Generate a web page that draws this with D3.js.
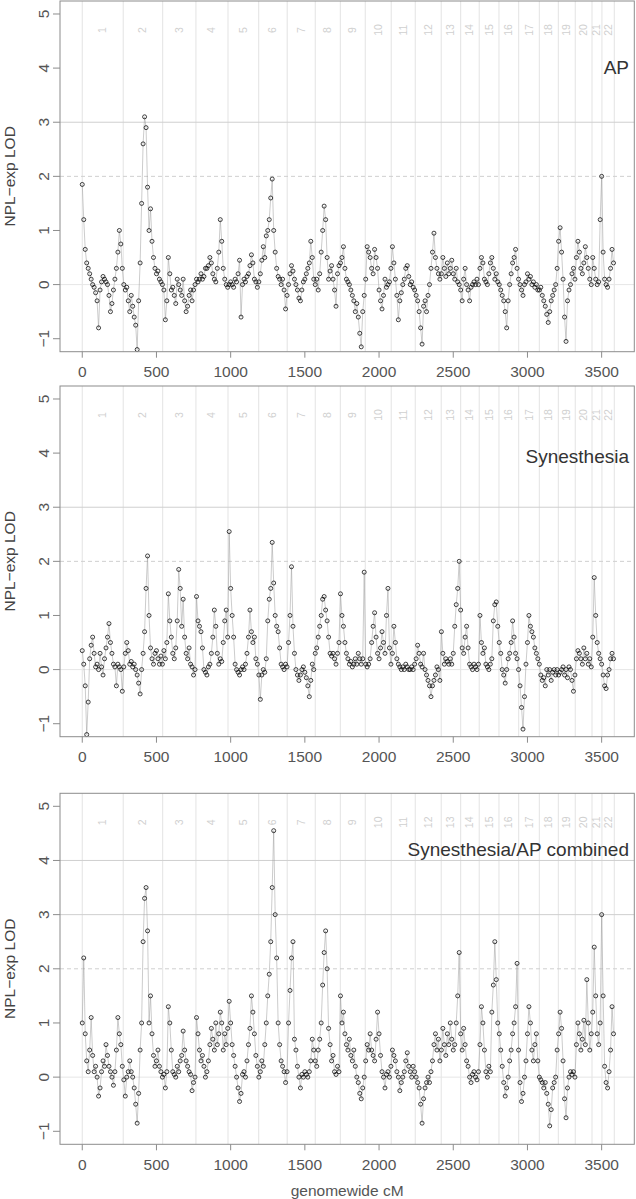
<!DOCTYPE html>
<html><head><meta charset="utf-8">
<script src="https://cdn.jsdelivr.net/npm/d3@7"></script>
<style>html,body{margin:0;padding:0;background:#fff;}</style>
</head><body>
<svg id="chart" width="636" height="1199"></svg>
<script>
const chromStarts = [0,276,542,766,982,1189,1381,1570,1739,1907,2082,2244,2419,2550,2675,2808,2941,3080,3208,3322,3435,3502,3585];
const chromLabels = ["1","2","3","4","5","6","7","8","9","10","11","12","13","14","15","16","17","18","19","20","21","22"];
const xTicks = [0,500,1000,1500,2000,2500,3000,3500];
const yTicks = [-1,0,1,2,3,4,5];
const panelTitles = ["AP","Synesthesia","Synesthesia/AP combined"];

const apLOD = [[0,1.85],[10,1.2],[20,0.65],[30,0.4],[40,0.3],[50,0.2],[60,0.1],[70,0],[80,-0.05],[90,-0.15],[100,-0.3],[110,-0.8],[120,-0.1],[130,0.05],[140,0.15],[150,0.1],[160,0.05],[170,0],[180,-0.2],[190,-0.5],[200,-0.35],[210,-0.1],[220,0.1],[230,0.3],[240,0.6],[250,1.0],[260,0.75],[270,0.3],
[280,0],[290,-0.1],[300,-0.05],[310,-0.3],[320,-0.5],[330,-0.2],[340,-0.4],[350,-0.6],[360,-0.75],[370,-1.2],[380,-0.3],[390,0.4],[400,1.5],[410,2.6],[420,3.1],[430,2.9],[440,1.8],[450,1.0],[460,1.4],[470,0.8],[480,0.5],[490,0.3],[500,0.2],[510,0.25],[520,0.1],[530,0.05],[540,0],
[550,-0.1],[560,-0.65],[570,-0.3],[580,0.5],[590,0.2],[600,-0.1],[610,-0.05],[620,-0.2],[630,-0.35],[640,0.1],[650,0],[660,-0.1],[670,-0.2],[680,0.1],[690,-0.3],[700,-0.5],[710,-0.4],[720,-0.2],[730,-0.1],[740,-0.3],[750,-0.1],[760,0],
[770,0.1],[780,0.05],[790,0.1],[800,0.2],[810,0.1],[820,0.15],[830,0.3],[840,0.3],[850,0.35],[860,0.5],[870,0.4],[880,0.2],[890,0.1],[900,0.05],[910,0.3],[920,0.6],[930,1.2],[940,0.8],[950,0.3],[960,0.1],[970,0],[980,-0.05],
[990,0],[1000,0.05],[1010,0],[1020,-0.05],[1030,0.1],[1040,0.05],[1050,0.2],[1060,0.45],[1070,-0.6],[1080,0],[1090,0.1],[1100,0.05],[1110,0.15],[1120,0.2],[1130,0.35],[1140,0.55],[1150,0.4],[1160,0.1],[1170,0.05],[1180,-0.05],
[1190,0.05],[1200,0.2],[1210,0.45],[1220,0.7],[1230,0.5],[1240,0.9],[1250,1.0],[1260,1.2],[1270,1.6],[1280,1.95],[1290,1.0],[1300,0.6],[1310,0.3],[1320,0.15],[1330,0.1],[1340,0],[1350,0.1],[1360,-0.1],[1370,-0.45],[1380,-0.2],
[1390,0],[1400,0.2],[1410,0.35],[1420,0.25],[1430,0.1],[1440,0],[1450,-0.1],[1460,-0.25],[1470,-0.3],[1480,-0.1],[1490,0.05],[1500,0.1],[1510,0.2],[1520,0.3],[1530,0.4],[1540,0.8],[1550,0.5],[1560,0.1],[1570,0],
[1580,0.1],[1590,-0.1],[1600,0.2],[1610,0.6],[1620,1.0],[1630,1.45],[1640,1.2],[1650,0.5],[1660,0.1],[1670,0.25],[1680,0.35],[1690,0.1],[1700,-0.1],[1710,-0.4],[1720,0.2],[1730,0.35],
[1740,0.4],[1750,0.5],[1760,0.7],[1770,0.3],[1780,0.1],[1790,0.05],[1800,0],[1810,-0.1],[1820,-0.2],[1830,-0.3],[1840,-0.5],[1850,-0.35],[1860,-0.6],[1870,-0.9],[1880,-1.15],[1890,-0.5],[1900,-0.2],
[1910,0.1],[1920,0.7],[1930,0.6],[1940,0.5],[1950,0.3],[1960,0.2],[1970,0.65],[1980,0.5],[1990,0.3],[2000,-0.1],[2010,-0.3],[2020,-0.45],[2030,-0.2],[2040,0.1],[2050,-0.05],[2060,0],[2070,0.05],[2080,0.3],
[2090,0.7],[2100,0.4],[2110,0.1],[2120,-0.2],[2130,-0.65],[2140,-0.3],[2150,-0.15],[2160,0],[2170,0.1],[2180,0.3],[2190,0.35],[2200,0.15],[2210,0],[2220,0.05],[2230,-0.05],[2240,-0.1],
[2250,-0.2],[2260,-0.3],[2270,-0.5],[2280,-0.8],[2290,-1.1],[2300,-0.4],[2310,-0.3],[2320,-0.5],[2330,-0.2],[2340,0],[2350,0.3],[2360,0.6],[2370,0.95],[2380,0.5],[2390,0.3],[2400,0.2],[2410,0.1],
[2420,0.2],[2430,0.5],[2440,0.3],[2450,0.15],[2460,0.4],[2470,0.2],[2480,0.3],[2490,0.45],[2500,0.2],[2510,0.1],[2520,0.3],[2530,0.05],[2540,0],
[2550,-0.1],[2560,-0.3],[2570,0.1],[2580,0.3],[2590,0],[2600,-0.1],[2610,-0.3],[2620,-0.05],[2630,0],[2640,0.05],[2650,0],[2660,0.1],[2670,0],
[2680,0.3],[2690,0.5],[2700,0.4],[2710,0.1],[2720,0.05],[2730,0],[2740,0.2],[2750,0.4],[2760,0.5],[2770,0.3],[2780,0.1],[2790,0.2],[2800,0.05],
[2810,0],[2820,-0.1],[2830,-0.2],[2840,-0.3],[2850,-0.5],[2860,-0.8],[2870,-0.3],[2880,0],[2890,0.2],[2900,0.4],[2910,0.5],[2920,0.65],[2930,0.3],[2940,0.1],
[2950,0],[2960,-0.1],[2970,-0.2],[2980,0],[2990,0.05],[3000,0.2],[3010,0.1],[3020,0.15],[3030,0],[3040,0.05],[3050,-0.05],[3060,0],[3070,-0.1],
[3080,-0.1],[3090,-0.05],[3100,-0.2],[3110,-0.3],[3120,-0.4],[3130,-0.55],[3140,-0.7],[3150,-0.5],[3160,-0.3],[3170,-0.2],[3180,-0.1],[3190,0],[3200,0.3],
[3210,0.8],[3220,1.05],[3230,0.6],[3240,0.1],[3250,-0.6],[3260,-1.05],[3270,-0.3],[3280,-0.1],[3290,0],[3300,0.2],[3310,0.3],[3320,0.1],
[3330,0.5],[3340,0.8],[3350,0.6],[3360,0.3],[3370,0.2],[3380,0.4],[3390,0.7],[3400,0.5],[3410,0.3],[3420,0.1],[3430,0],
[3440,0.5],[3450,0.3],[3460,0.1],[3470,0],[3480,0.05],[3490,1.2],[3500,2.0],
[3510,0.6],[3520,0.1],[3530,0],[3540,-0.05],[3550,0.1],[3560,0.3],[3570,0.65],[3580,0.4]];

const synLOD = [[0,0.35],[10,0.1],[20,-0.3],[30,-1.2],[40,-0.6],[50,0.2],[60,0.45],[70,0.6],[80,0.3],[90,0.05],[100,0.1],[110,0],[120,0.3],[130,0.05],[140,-0.1],[150,0.2],[160,0.4],[170,0.6],[180,0.85],[190,0.5],[200,0.3],[210,0.1],[220,0.05],[230,-0.3],[240,0.1],[250,0.05],[260,0],[270,-0.4],
[280,0.05],[290,0.3],[300,0.5],[310,0.35],[320,0.1],[330,0.15],[340,0.05],[350,0.1],[360,0],[370,-0.1],[380,-0.25],[390,-0.45],[400,0],[410,0.3],[420,0.7],[430,1.5],[440,2.1],[450,1.0],[460,0.4],[470,0.2],[480,0.1],[490,0.3],[500,0.35],[510,0.2],[520,0.1],[530,0.25],[540,0.1],
[550,0.35],[560,0.2],[570,0.5],[580,1.4],[590,0.9],[600,0.6],[610,0.3],[620,0.2],[630,0.4],[640,0.9],[650,1.85],[660,1.5],[670,0.8],[680,1.3],[690,0.6],[700,0.3],[710,0.2],[720,0.4],[730,0.1],[740,0.05],[750,-0.1],[760,0],
[770,1.35],[780,0.9],[790,0.8],[800,0.7],[810,0.4],[820,0],[830,-0.05],[840,-0.1],[850,0.05],[860,0.1],[870,0.3],[880,0.6],[890,1.1],[900,0.8],[910,0.3],[920,0.1],[930,0.2],[940,0.15],[950,0.5],[960,0.9],[970,1.1],[980,0.6],
[990,2.55],[1000,1.5],[1010,1.0],[1020,0.6],[1030,0.1],[1040,0],[1050,-0.05],[1060,-0.1],[1070,0],[1080,0.05],[1090,0],[1100,0.1],[1110,0.3],[1120,0.6],[1130,1.1],[1140,0.7],[1150,0.5],[1160,0.6],[1170,0.2],[1180,0.1],
[1190,-0.1],[1200,-0.55],[1210,-0.1],[1220,0],[1230,-0.05],[1240,0.2],[1250,0.9],[1260,1.3],[1270,1.5],[1280,2.35],[1290,1.6],[1300,1.0],[1310,0.8],[1320,0.7],[1330,0.4],[1340,0.1],[1350,0.05],[1360,0],[1370,0.1],[1380,0.05],
[1390,0.5],[1400,1.0],[1410,1.9],[1420,0.8],[1430,0.3],[1440,0],[1450,-0.1],[1460,-0.2],[1470,-0.1],[1480,0],[1490,0.05],[1500,-0.05],[1510,-0.15],[1520,-0.3],[1530,-0.5],[1540,-0.2],[1550,0.1],[1560,0],[1570,0.3],
[1580,0.4],[1590,0.6],[1600,0.8],[1610,1.0],[1620,1.3],[1630,1.35],[1640,1.1],[1650,0.9],[1660,0.6],[1670,0.3],[1680,0.25],[1690,0.3],[1700,0.2],[1710,0.1],[1720,0.3],[1730,0.5],
[1740,1.4],[1750,1.0],[1760,0.8],[1770,0.5],[1780,0.3],[1790,0.2],[1800,0.1],[1810,0.15],[1820,0.05],[1830,0.1],[1840,0.2],[1850,0.1],[1860,0.3],[1870,0.2],[1880,0.1],[1890,0.2],[1900,1.8],
[1910,0.1],[1920,0.05],[1930,0.1],[1940,0.2],[1950,0.5],[1960,0.8],[1970,1.05],[1980,0.6],[1990,0.3],[2000,0.2],[2010,0.4],[2020,0.7],[2030,0.5],[2040,0.3],[2050,1.0],[2060,1.5],[2070,0.4],[2080,0.1],
[2090,0.3],[2100,0.8],[2110,0.5],[2120,0.2],[2130,0.1],[2140,0.05],[2150,0],[2160,0.05],[2170,0],[2180,0.1],[2190,0.05],[2200,0],[2210,0],[2220,0.05],[2230,0],[2240,0.1],
[2250,0.2],[2260,0.45],[2270,0.3],[2280,0.1],[2290,0.05],[2300,0.3],[2310,0],[2320,-0.1],[2330,-0.2],[2340,-0.3],[2350,-0.5],[2360,-0.3],[2370,-0.2],[2380,-0.1],[2390,0.05],[2400,0],[2410,-0.2],
[2420,0.7],[2430,0.3],[2440,0.1],[2450,0.2],[2460,0.15],[2470,0.1],[2480,0.2],[2490,0.1],[2500,0.3],[2510,0.8],[2520,1.2],[2530,1.5],[2540,2.0],
[2550,1.1],[2560,0.4],[2570,0.3],[2580,0.6],[2590,0.8],[2600,0.4],[2610,0.1],[2620,0.05],[2630,0],[2640,0.1],[2650,0.05],[2660,0],[2670,0.1],
[2680,1.0],[2690,0.5],[2700,0.3],[2710,0.4],[2720,0.1],[2730,0.05],[2740,0],[2750,0.1],[2760,0.2],[2770,0.9],[2780,1.2],[2790,1.25],[2800,0.8],
[2810,0.5],[2820,0.3],[2830,0],[2840,-0.1],[2850,-0.25],[2860,0],[2870,0.2],[2880,0.3],[2890,0.5],[2900,0.9],[2910,0.6],[2920,0.3],[2930,0.2],[2940,0],
[2950,-0.3],[2960,-0.7],[2970,-1.1],[2980,-0.5],[2990,0.1],[3000,0.5],[3010,1.0],[3020,0.8],[3030,0.7],[3040,0.6],[3050,0.4],[3060,0.3],[3070,0.2],
[3080,0.1],[3090,-0.1],[3100,-0.2],[3110,-0.15],[3120,-0.3],[3130,0],[3140,-0.1],[3150,0],[3160,-0.2],[3170,-0.05],[3180,0],[3190,-0.1],[3200,0],
[3210,-0.1],[3220,-0.05],[3230,0],[3240,0.05],[3250,-0.1],[3260,0],[3270,-0.15],[3280,0.05],[3290,0],[3300,-0.2],[3310,-0.4],[3320,-0.1],
[3330,0.2],[3340,0.35],[3350,0.3],[3360,0.2],[3370,0.1],[3380,0.4],[3390,0.2],[3400,0.3],[3410,0.1],[3420,0.2],[3430,0.05],
[3440,0.6],[3450,1.7],[3460,1.0],[3470,0.5],[3480,0.3],[3490,0.2],[3500,0.1],
[3510,-0.1],[3520,-0.3],[3530,-0.35],[3540,-0.1],[3550,0],[3560,0.2],[3570,0.3],[3580,0.2]];

const combLOD = [[0,1.0],[10,2.2],[20,0.8],[30,0.3],[40,0.1],[50,0.5],[60,1.1],[70,0.4],[80,0.1],[90,0.2],[100,0],[110,-0.35],[120,-0.2],[130,0.1],[140,0.3],[150,0.2],[160,0.6],[170,0.4],[180,0.2],[190,0.1],[200,0],[210,-0.15],[220,0.1],[230,0.5],[240,1.1],[250,0.8],[260,0.6],[270,0.2],
[280,-0.05],[290,-0.35],[300,0],[310,0.1],[320,0.3],[330,0.1],[340,0],[350,-0.2],[360,-0.5],[370,-0.85],[380,-0.3],[390,0.5],[400,1.0],[410,2.5],[420,3.3],[430,3.5],[440,2.7],[450,1.0],[460,1.5],[470,0.8],[480,0.4],[490,0.2],[500,0.3],[510,0.5],[520,0.2],[530,0.1],[540,0],
[550,0.05],[560,-0.2],[570,0.1],[580,1.3],[590,1.0],[600,0.5],[610,0.1],[620,0.05],[630,0],[640,0.2],[650,0.1],[660,0.3],[670,0.4],[680,0.85],[690,0.5],[700,0.3],[710,0.2],[720,0.1],[730,0.05],[740,-0.25],[750,-0.1],[760,0],
[770,1.1],[780,0.8],[790,0.5],[800,0.3],[810,0.4],[820,0.2],[830,0],[840,0.1],[850,0.3],[860,0.6],[870,0.9],[880,0.7],[890,0.5],[900,1.0],[910,0.6],[920,0.8],[930,1.2],[940,1.0],[950,0.5],[960,0.8],[970,0.6],[980,0.9],
[990,1.4],[1000,1.0],[1010,0.6],[1020,0.4],[1030,0.2],[1040,0],[1050,-0.2],[1060,-0.45],[1070,-0.3],[1080,0.05],[1090,0.1],[1100,0],[1110,0.3],[1120,0.6],[1130,0.9],[1140,1.5],[1150,1.2],[1160,0.8],[1170,0.4],[1180,0.2],
[1190,0],[1200,0.1],[1210,0.3],[1220,0.2],[1230,0.6],[1240,1.0],[1250,1.5],[1260,1.9],[1270,2.5],[1280,3.5],[1290,4.55],[1300,3.0],[1310,2.2],[1320,1.0],[1330,0.6],[1340,0.3],[1350,0.2],[1360,0.1],[1370,-0.1],[1380,0.1],
[1390,1.0],[1400,1.6],[1410,2.2],[1420,2.5],[1430,0.7],[1440,0.5],[1450,0.2],[1460,0],[1470,-0.2],[1480,0.05],[1490,0],[1500,0.1],[1510,0.05],[1520,0],[1530,0.1],[1540,0.3],[1550,0.7],[1560,0.5],[1570,0.3],
[1580,0.2],[1590,0.5],[1600,0.7],[1610,1.0],[1620,1.7],[1630,2.3],[1640,2.7],[1650,2.0],[1660,0.9],[1670,0.6],[1680,0.3],[1690,0.4],[1700,0.1],[1710,0.05],[1720,0.2],[1730,0.1],
[1740,1.5],[1750,1.0],[1760,1.2],[1770,0.8],[1780,0.6],[1790,0.5],[1800,0.7],[1810,0.4],[1820,0.3],[1830,0.5],[1840,0.2],[1850,0],[1860,-0.1],[1870,-0.3],[1880,-0.4],[1890,-0.2],[1900,0],
[1910,0.3],[1920,0.6],[1930,0.5],[1940,0.8],[1950,0.5],[1960,0.4],[1970,0.3],[1980,0.7],[1990,1.2],[2000,0.8],[2010,0.4],[2020,0.1],[2030,0],[2040,-0.2],[2050,0.05],[2060,0.1],[2070,0],[2080,0.2],
[2090,0.5],[2100,0.4],[2110,0.3],[2120,0.1],[2130,0],[2140,-0.25],[2150,-0.1],[2160,0],[2170,0.1],[2180,0.3],[2190,0.45],[2200,0.2],[2210,0.1],[2220,0],[2230,0.2],[2240,0.1],
[2250,0],[2260,-0.1],[2270,-0.2],[2280,-0.5],[2290,-0.85],[2300,-0.4],[2310,-0.2],[2320,-0.1],[2330,0],[2340,-0.1],[2350,0.1],[2360,0.3],[2370,0.6],[2380,0.8],[2390,0.5],[2400,0.7],[2410,0.3],
[2420,0.5],[2430,0.9],[2440,0.6],[2450,0.4],[2460,0.8],[2470,0.6],[2480,1.0],[2490,0.7],[2500,0.5],[2510,0.6],[2520,1.0],[2530,1.5],[2540,2.3],
[2550,0.8],[2560,0.5],[2570,0.9],[2580,0.6],[2590,0.3],[2600,0.2],[2610,0],[2620,-0.1],[2630,0.05],[2640,0.1],[2650,0],[2660,-0.05],[2670,0.1],
[2680,0.6],[2690,1.3],[2700,1.0],[2710,0.5],[2720,0.1],[2730,0],[2740,0.2],[2750,0.1],[2760,1.2],[2770,1.7],[2780,2.5],[2790,1.8],[2800,1.0],
[2810,0.8],[2820,0.5],[2830,0.2],[2840,-0.1],[2850,-0.35],[2860,-0.2],[2870,0],[2880,0.3],[2890,0.5],[2900,0.8],[2910,1.0],[2920,1.3],[2930,2.1],[2940,0.5],
[2950,-0.1],[2960,-0.45],[2970,-0.3],[2980,0],[2990,0.3],[3000,0.8],[3010,1.3],[3020,1.0],[3030,0.5],[3040,0.3],[3050,0.6],[3060,0.8],[3070,0.3],
[3080,0],[3090,-0.05],[3100,-0.1],[3110,-0.2],[3120,-0.1],[3130,-0.3],[3140,-0.5],[3150,-0.9],[3160,-0.6],[3170,-0.2],[3180,-0.1],[3190,0],[3200,0.5],
[3210,0.8],[3220,1.2],[3230,0.9],[3240,0.3],[3250,-0.4],[3260,-0.75],[3270,-0.2],[3280,0],[3290,0.1],[3300,0.05],[3310,0.1],[3320,0],
[3330,0.6],[3340,1.0],[3350,0.8],[3360,0.5],[3370,0.7],[3380,1.05],[3390,0.6],[3400,1.8],[3410,1.0],[3420,0.5],[3430,0.8],
[3440,1.2],[3450,2.4],[3460,1.5],[3470,0.8],[3480,0.6],[3490,1.0],[3500,3.0],
[3510,1.5],[3520,0.2],[3530,-0.1],[3540,-0.2],[3550,0.1],[3560,0.5],[3570,1.3],[3580,0.8]];

const panelSeries = [apLOD, synLOD, combLOD];
const panelTops = [1, 386, 793.3];
const panelBottoms = [351.7, 736.7, 1144.3];
const titleBaselines = [74, 463, 856];
const solidRefLines = [[0,3],[0,3],[0,3,4]];

const svg = d3.select("#chart");
const FONT = "'Liberation Sans', Arial, Helvetica, sans-serif";
const left = 60, right = 634.3;
const x = d3.scaleLinear().domain([-150, 3720]).range([left, right]);

panelSeries.forEach((data, p) => {
  const top = panelTops[p], bottom = panelBottoms[p];
  const y = d3.scaleLinear().domain([-1.24, 5.24]).range([bottom, top]);
  const g = svg.append("g");

  g.selectAll("line.chr").data(chromStarts).enter().append("line")
    .attr("x1", d => x(d)).attr("x2", d => x(d))
    .attr("y1", top).attr("y2", bottom)
    .attr("stroke", "#e3e3e3").attr("stroke-width", 1);

  g.selectAll("text.chr").data(chromLabels).enter().append("text")
    .attr("transform", (d, i) => `translate(${x((chromStarts[i] + chromStarts[i+1]) / 2) + 3.5},${top + 29}) rotate(-90)`)
    .attr("text-anchor", "middle")
    .attr("font-family", FONT).attr("font-size", 10.5)
    .attr("fill", "#d0d0d0").text(d => d);

  g.selectAll("line.ref").data(solidRefLines[p]).enter().append("line")
    .attr("x1", left).attr("x2", right)
    .attr("y1", d => y(d)).attr("y2", d => y(d))
    .attr("stroke", d => d === 0 ? "#e6e6e6" : "#cfcfcf").attr("stroke-width", 1);
  g.append("line")
    .attr("x1", left).attr("x2", right)
    .attr("y1", y(2)).attr("y2", y(2))
    .attr("stroke", "#cfcfcf").attr("stroke-width", 1).attr("stroke-dasharray", "4,3");

  g.append("path").datum(data)
    .attr("d", d3.line().x(d => x(d[0])).y(d => y(d[1])))
    .attr("fill", "none").attr("stroke", "#999").attr("stroke-width", 0.5);

  g.selectAll("circle").data(data).enter().append("circle")
    .attr("cx", d => x(d[0])).attr("cy", d => y(d[1])).attr("r", 2)
    .attr("fill", "none").attr("stroke", "#111").attr("stroke-width", 0.8);

  g.append("rect").attr("x", left).attr("y", top)
    .attr("width", right - left).attr("height", bottom - top)
    .attr("fill", "none").attr("stroke", "#8c8c8c").attr("stroke-width", 1);

  g.selectAll("line.xt").data(xTicks).enter().append("line")
    .attr("x1", d => x(d)).attr("x2", d => x(d))
    .attr("y1", bottom).attr("y2", bottom + 6)
    .attr("stroke", "#8c8c8c");
  g.selectAll("text.xt").data(xTicks).enter().append("text")
    .attr("x", d => x(d)).attr("y", bottom + 25.5)
    .attr("text-anchor", "middle")
    .attr("font-family", FONT).attr("font-size", 15.5)
    .attr("fill", "#555").text(d => d);

  g.selectAll("line.yt").data(yTicks).enter().append("line")
    .attr("x1", left - 7).attr("x2", left)
    .attr("y1", d => y(d)).attr("y2", d => y(d))
    .attr("stroke", "#8c8c8c");
  g.selectAll("text.yt").data(yTicks).enter().append("text")
    .attr("transform", d => `translate(48.5,${y(d)}) rotate(-90)`)
    .attr("text-anchor", "middle")
    .attr("font-family", FONT).attr("font-size", 15.5)
    .attr("fill", "#555").text(d => d < 0 ? "\u22121" : d);

  g.append("text")
    .attr("transform", `translate(14.5,${(top + bottom) / 2}) rotate(-90)`)
    .attr("text-anchor", "middle")
    .attr("font-family", FONT).attr("font-size", 15.5)
    .attr("fill", "#444").text("NPL\u2212exp LOD");

  g.append("text")
    .attr("x", 629).attr("y", titleBaselines[p])
    .attr("text-anchor", "end")
    .attr("font-family", FONT).attr("font-size", 19)
    .attr("fill", "#333").text(panelTitles[p]);
});

svg.append("text")
  .attr("x", (left + right) / 2).attr("y", 1196)
  .attr("text-anchor", "middle")
  .attr("font-family", FONT).attr("font-size", 15.5)
  .attr("fill", "#555").text("genomewide cM");
</script>
</body></html>
